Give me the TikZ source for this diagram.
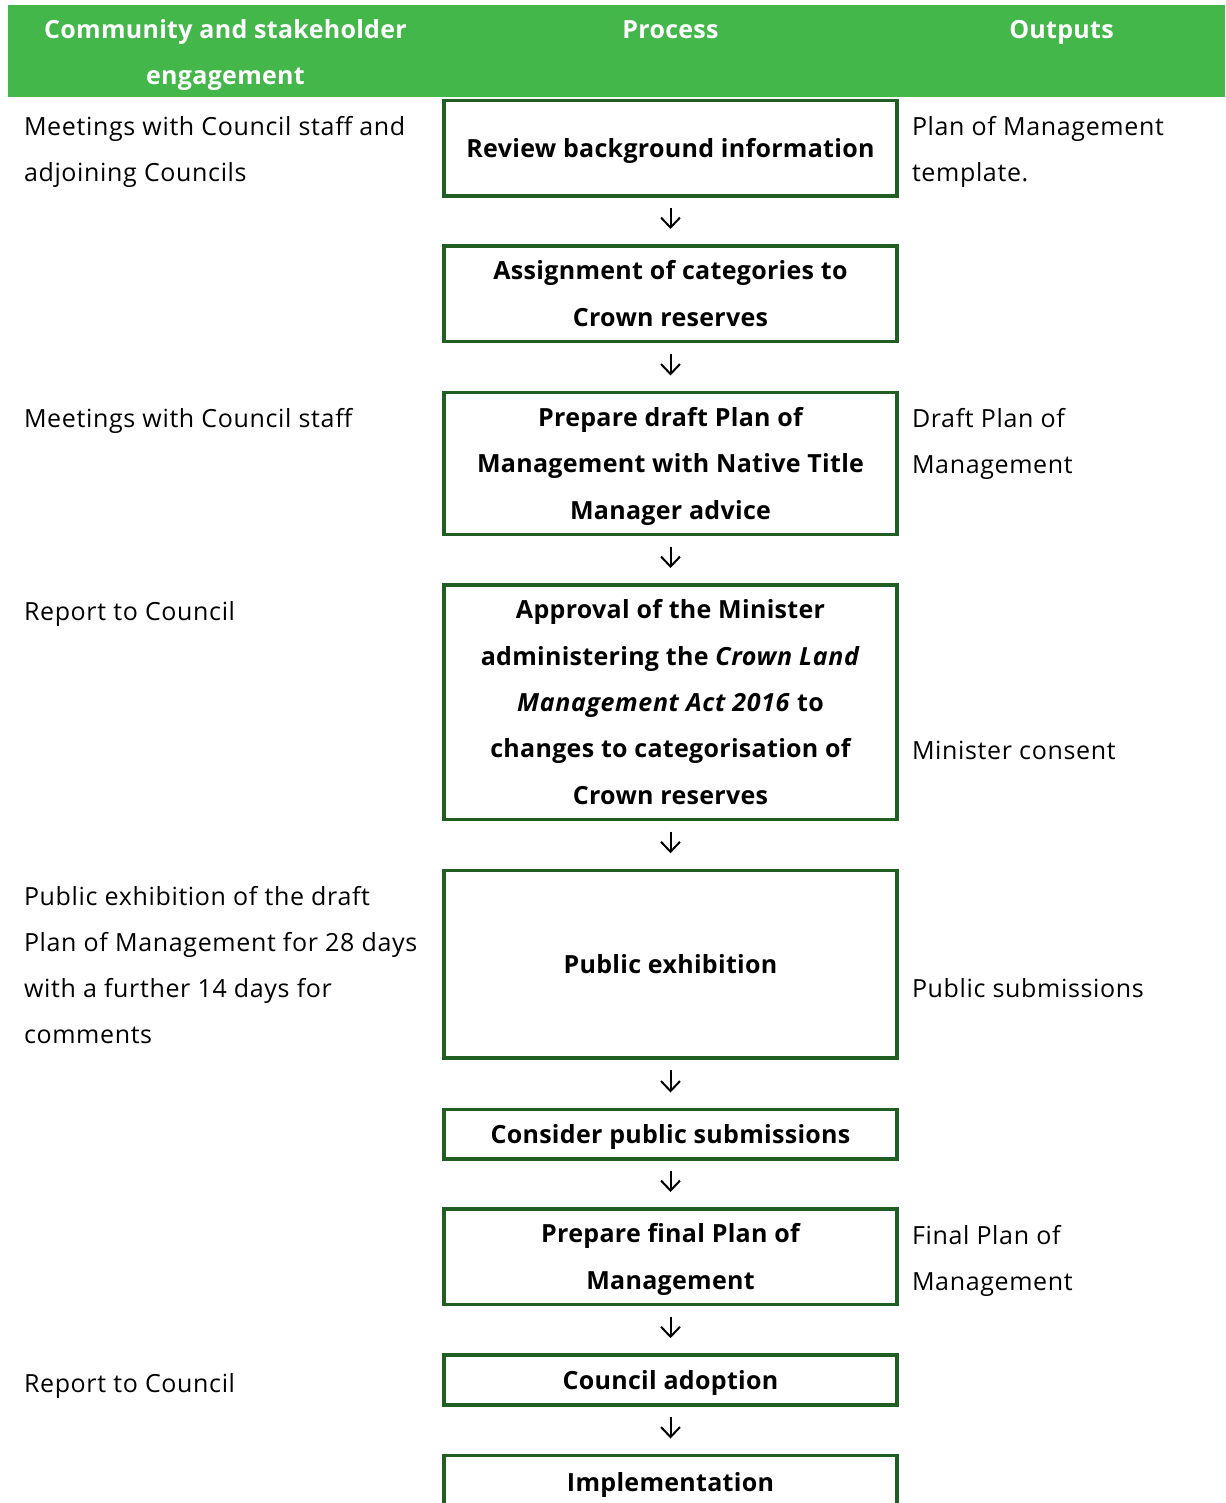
\documentclass[tikz,border=0pt]{standalone}
\usepackage{fontspec}
\setmainfont{Open Sans}[LetterSpace=2.6, BoldFeatures={LetterSpace=1.2}, BoldItalicFeatures={LetterSpace=2.5}]
\usetikzlibrary{arrows.meta}
\definecolor{hdr}{RGB}{67,183,74}
\definecolor{bdr}{RGB}{32,94,36}
\begin{document}
\begin{tikzpicture}[x=1pt,y=-1pt,
  every node/.style={inner sep=0pt, outer sep=0pt},
  txt/.style={font=\fontsize{25}{46.3}\selectfont, execute at end node=\strut},
  proc/.style={txt, draw=bdr, line width=3.5pt, minimum width=453pt, align=center, font=\fontsize{25}{46.3}\selectfont\bfseries},
  side/.style={txt, anchor=north west, align=left},
  hd/.style={txt, text=white, font=\fontsize{25}{46.3}\selectfont\bfseries, align=center, anchor=north},
  arr/.style={-{Straight Barb[length=10pt,width=19pt]}, line width=2pt, shorten <=12pt, shorten >=17pt}
]
\useasboundingbox (0,0) rectangle (1225,1503);
\clip (0,0) rectangle (1225,1503);
\fill[hdr] (8,5) rectangle (1225,97);
\node[hd] (h1) at (225.5,6.1) {\strut Community and stakeholder\\engagement};
\node[hd] (h2) at (670.5,6.1) {\strut Process};
\node[hd] (h3) at (1061.5,6.1) {\strut Outputs};

\node[proc, minimum height=95.5pt] (b1) at (670.5,148.25) {\strut Review background information};
\node[proc, minimum height=95.5pt] (b2) at (670.5,293.75) {\strut Assignment of categories to\\Crown reserves};
\node[proc, minimum height=142pt] (b3) at (670.5,463.5) {\strut Prepare draft Plan of\\Management with Native Title\\Manager advice};
\node[proc, minimum height=234.5pt] (b4) at (670.5,702.25) {\strut Approval of the Minister\\administering the \textit{Crown Land}\\\textit{Management Act 2016} to\\changes to categorisation of\\Crown reserves};
\node[proc, minimum height=187.5pt] (b5) at (670.5,964) {\strut Public exhibition};
\node[proc, minimum height=49.5pt] (b6) at (670.5,1134.25) {\strut Consider public submissions};
\node[proc, minimum height=95.5pt] (b7) at (670.5,1256.75) {\strut Prepare final Plan of\\Management};
\node[proc, minimum height=50pt] (b8) at (670.5,1380.2) {\strut Council adoption};
\node[proc, minimum height=53.4pt] (b9) at (670.5,1482.2) {\strut Implementation};

\foreach \a/\b in {b1/b2,b2/b3,b3/b4,b4/b5,b5/b6,b6/b7,b7/b8,b8/b9}
  \draw[arr] (\a) -- (\b);

\node[side] (l1) at (24,102.6) {\strut Meetings with Council staff and\\adjoining Councils};
\node[side] (l2) at (24,394.6) {\strut Meetings with Council staff};
\node[side] (l3) at (24,587.6) {\strut Report to Council};
\node[side] (l4) at (24,872.6) {\strut Public exhibition of the draft\\Plan of Management for 28 days\\with a further 14 days for\\comments};
\node[side] (l5) at (24,1359.6) {\strut Report to Council};

\node[side] (r1) at (912,102.6) {\strut Plan of Management\\template.};
\node[side] (r2) at (912,394.6) {\strut Draft Plan of\\Management};
\node[side] (r3) at (912,726.6) {\strut Minister consent};
\node[side] (r4) at (912,964.6) {\strut Public submissions};
\node[side] (r5) at (912,1211.6) {\strut Final Plan of\\Management};
\end{tikzpicture}
\end{document}
